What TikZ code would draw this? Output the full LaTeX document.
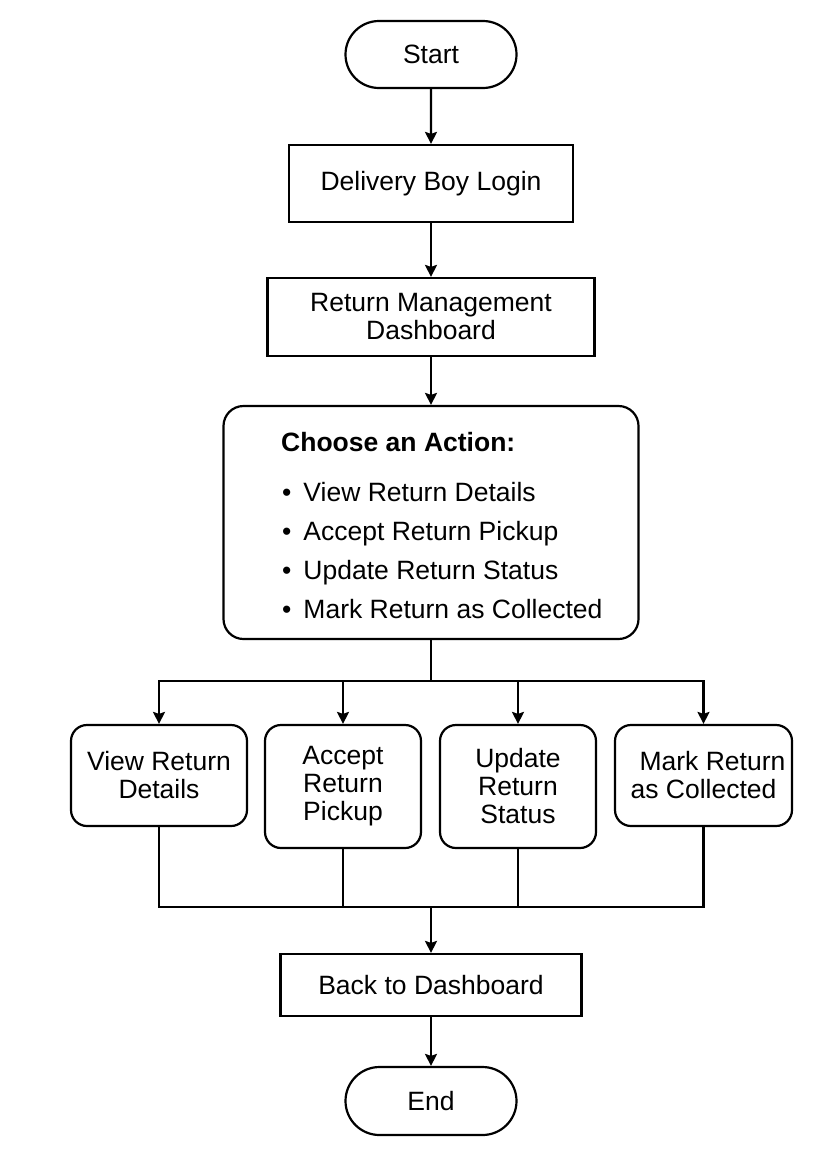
\documentclass[tikz,border=0pt]{standalone}
\usepackage{fontspec}
\setmainfont{Liberation Sans}
\usetikzlibrary{arrows.meta,shapes.misc}

\begin{document}
\begin{tikzpicture}[x=1pt,y=-1pt,
  every node/.style={font=\fontsize{26.5}{28}\selectfont, text=black},
  line/.style={draw=black, line width=2.2pt},
  arr/.style={line, -{Stealth[length=12pt,width=12pt,inset=2pt]}},
  term/.style={line, rounded rectangle, minimum width=171pt, minimum height=67pt, inner sep=0pt},
  procbox/.style={line, rectangle, inner sep=0pt, align=center},
  optbox/.style={line, rectangle, rounded corners=16pt, inner sep=0pt, align=center},
  listtext/.style={anchor=base west, inner sep=0pt},
]
  % page
  \fill[white] (0,0) rectangle (837,1154);
  \useasboundingbox (0,0) rectangle (837,1154);

  % main column
  \node[term] (start) at (431,54.5) {Start};
  \node[procbox, minimum width=284pt, minimum height=77pt] (login) at (431,183.5) {Delivery Boy Login};
  \node[procbox, minimum width=327pt, minimum height=78pt] (dash) at (431,317) {Return Management\\Dashboard};

  % action menu
  \node[line, rectangle, rounded corners=20pt, minimum width=415pt, minimum height=233pt] (choose) at (431,522.5) {};
  \node[listtext, font=\fontsize{26.5}{28}\selectfont\bfseries] (ct) at (281,451) {Choose an Action:};
  \node[listtext] (c1) at (282,501) {•\hspace{12pt}View Return Details};
  \node[listtext] (c2) at (282,540) {•\hspace{12pt}Accept Return Pickup};
  \node[listtext] (c3) at (282,579) {•\hspace{12pt}Update Return Status};
  \node[listtext] (c4) at (282,618) {•\hspace{12pt}Mark Return as Collected};

  % the four actions
  \node[optbox, minimum width=176pt, minimum height=101pt] (view) at (159,775.5) {View Return\\Details};
  \node[optbox, minimum width=156pt, minimum height=123pt] (accept) at (343,786.5) {Accept\\Return\\Pickup};
  \node[optbox, minimum width=156pt, minimum height=123pt] (update) at (518,786.5) {Update\\Return\\Status};
  \node[optbox, minimum width=177pt, minimum height=101pt] (mark) at (703.5,775.5) {\hspace*{18pt}Mark Return\\as Collected};

  % closing steps
  \node[procbox, minimum width=301pt, minimum height=62pt] (back) at (431,985) {Back to Dashboard};
  \node[term, minimum height=68pt] (end) at (431,1101) {End};

  % branch and merge points
  \coordinate (split) at (431,681);
  \coordinate (merge) at (431,907);

  % connectors
  \draw[arr] (start) -- (login);
  \draw[arr] (login) -- (dash);
  \draw[arr] (dash) -- (choose);
  \draw[line] (choose.south) -- (split);
  \draw[arr] (split) -| (view.north);
  \draw[arr] (split) -| (accept.north);
  \draw[arr] (split) -| (update.north);
  \draw[arr] (split) -| (mark.north);
  \draw[line] (view.south) |- (merge);
  \draw[line] (accept.south) |- (merge);
  \draw[line] (update.south) |- (merge);
  \draw[line] (mark.south) |- (merge);
  \draw[arr] (merge) -- (back);
  \draw[arr] (back) -- (end);
\end{tikzpicture}
\end{document}
